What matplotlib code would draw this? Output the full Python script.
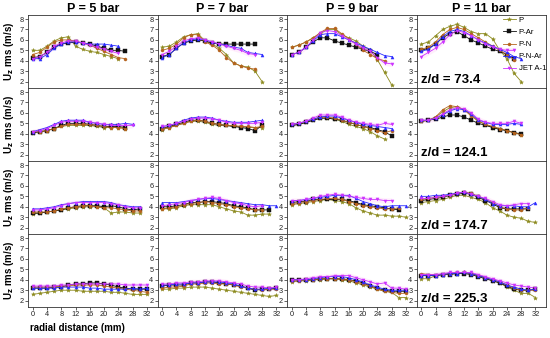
import numpy as np
import matplotlib
matplotlib.use("Agg")
import matplotlib.pyplot as plt

plt.rcParams['font.family'] = ['Liberation Sans', 'DejaVu Sans']

pressures = [5, 7, 9, 11]
zd_values = [73.4, 124.1, 174.7, 225.3]
fuels = ['P', 'P-Ar', 'P-N', 'P-N-Ar', 'JET A-1']
colors = ['#8c8a1e', '#111111', '#b5631e', '#2a2aff', '#cc33ff']
markers = ['*', 's', 'o', '^', 'v']
x_ticks = [0, 4, 8, 12, 16, 20, 24, 28, 32]
y_ticks = [2, 3, 4, 5, 6, 7, 8]
# measurement points every 2 mm starting at 0

# z/d = 73.4
p5_z73 = {
    'P':       [5.0, 5.0, 5.4, 5.9, 6.2, 6.3, 5.4, 5.1, 4.9, 4.8, 4.6, 4.4, 4.2],
    'P-Ar':    [4.3, 4.4, 4.8, 5.3, 5.6, 5.7, 5.8, 5.7, 5.6, 5.4, 5.2, 5.0, 5.0, 4.9],
    'P-N':     [4.6, 4.8, 5.3, 5.8, 6.0, 6.0, 5.9, 5.7, 5.5, 5.2, 4.9, 4.6, 4.3, 4.2],
    'P-N-Ar':  [4.2, 4.2, 4.6, 5.2, 5.6, 5.8, 5.8, 5.7, 5.6, 5.6, 5.6, 5.5, 5.4],
    'JET A-1': [4.2, 4.4, 4.8, 5.4, 5.7, 5.9, 5.9, 5.7, 5.5, 5.3, 5.1, 4.9, 4.7],
}
p7_z73 = {
    'P':       [5.3, 5.4, 5.8, 6.3, 6.5, 6.6, 5.9, 5.6, 5.2, 4.6, 3.8, 3.5, 3.4, 3.0, 2.0],
    'P-Ar':    [4.4, 4.6, 5.2, 5.7, 5.9, 6.0, 5.9, 5.7, 5.6, 5.6, 5.6, 5.6, 5.6, 5.6],
    'P-N':     [5.0, 5.2, 5.6, 6.2, 6.5, 6.5, 5.8, 5.5, 5.0, 4.3, 3.8, 3.5, 3.3, 3.2],
    'P-N-Ar':  [4.3, 4.6, 5.2, 5.7, 6.0, 6.1, 6.0, 5.8, 5.6, 5.5, 5.3, 5.2, 4.8, 4.7, 4.6],
    'JET A-1': [4.6, 4.9, 5.4, 5.9, 6.1, 6.2, 6.0, 5.8, 5.6, 5.4, 5.2, 5.0, 4.7, 4.6],
}
p9_z73 = {
    'P':       [5.3, 5.5, 5.8, 6.2, 6.6, 7.0, 7.0, 6.5, 6.2, 5.9, 5.4, 5.0, 4.1, 2.9, 1.7],
    'P-Ar':    [4.6, 4.8, 5.3, 5.8, 6.2, 6.2, 5.9, 5.7, 5.5, 5.3, 5.1, 4.9, 4.6],
    'P-N':     [5.3, 5.5, 5.8, 6.2, 6.7, 7.1, 7.1, 6.6, 6.1, 5.6, 5.0, 4.6, 4.2, 4.0],
    'P-N-Ar':  [4.6, 4.8, 5.3, 5.9, 6.5, 6.6, 6.6, 6.3, 6.0, 5.7, 5.4, 5.1, 4.8, 4.5, 4.4],
    'JET A-1': [4.6, 4.8, 5.3, 6.0, 6.7, 6.9, 6.8, 6.4, 6.0, 5.6, 5.2, 4.9, 4.3, 3.8, 3.7],
}
p11_z73 = {
    'P':       [5.6, 5.8, 6.4, 7.0, 7.3, 7.5, 7.2, 6.8, 6.6, 6.6, 6.1, 5.0, 4.2, 2.8, 2.0],
    'P-Ar':    [5.0, 5.2, 5.6, 6.2, 6.6, 6.8, 6.4, 6.0, 5.7, 5.4, 5.1, 4.9, 4.6, 4.2],
    'P-N':     [5.1, 5.3, 5.8, 6.5, 7.0, 7.2, 7.0, 6.6, 6.2, 5.8, 5.4, 5.0, 4.6, 4.1],
    'P-N-Ar':  [4.9, 5.1, 5.6, 6.3, 6.8, 7.0, 6.8, 6.4, 6.0, 5.7, 5.4, 5.1, 4.8, 4.4, 4.2],
    'JET A-1': [4.4, 4.8, 5.2, 5.8, 6.5, 6.9, 6.7, 6.4, 6.0, 5.6, 5.3, 5.1, 5.0, 5.0],
}

# z/d = 124.1
p5_z124 = {
    'P':       [4.1, 4.2, 4.3, 4.5, 4.7, 4.8, 4.8, 4.8, 4.8, 4.7, 4.6, 4.6, 4.6, 4.5],
    'P-Ar':    [4.1, 4.2, 4.3, 4.5, 4.8, 5.0, 5.0, 5.0, 4.9, 4.8, 4.7, 4.7, 4.7, 4.6],
    'P-N':     [4.2, 4.2, 4.3, 4.5, 4.7, 4.9, 4.9, 4.9, 4.9, 4.8, 4.7, 4.6, 4.6, 4.5],
    'P-N-Ar':  [4.2, 4.4, 4.6, 4.9, 5.2, 5.3, 5.3, 5.3, 5.1, 5.0, 4.9, 4.9, 4.9, 5.0, 4.9],
    'JET A-1': [4.2, 4.3, 4.5, 4.8, 5.1, 5.2, 5.2, 5.2, 5.1, 5.0, 4.9, 4.8, 4.8, 4.8, 4.8],
}
p7_z124 = {
    'P':       [4.4, 4.6, 4.8, 5.0, 5.2, 5.2, 5.1, 4.9, 4.8, 4.8, 4.7, 4.7, 4.6, 4.6, 4.6],
    'P-Ar':    [4.5, 4.7, 4.9, 5.1, 5.3, 5.3, 5.2, 5.0, 4.9, 4.8, 4.7, 4.6, 4.5, 4.3, 4.8],
    'P-N':     [4.5, 4.6, 4.8, 5.0, 5.2, 5.3, 5.2, 5.0, 4.9, 4.8, 4.8, 4.7, 4.7, 4.6, 4.7],
    'P-N-Ar':  [4.7, 4.8, 5.0, 5.3, 5.5, 5.6, 5.6, 5.5, 5.3, 5.2, 5.1, 5.1, 5.1, 5.2, 5.3],
    'JET A-1': [4.7, 4.8, 5.0, 5.2, 5.4, 5.5, 5.5, 5.4, 5.3, 5.1, 5.0, 5.0, 5.0, 5.0, 5.1],
}
p9_z124 = {
    'P':       [4.8, 4.9, 5.1, 5.3, 5.5, 5.5, 5.4, 5.2, 4.9, 4.7, 4.5, 4.2, 3.8, 3.5],
    'P-Ar':    [4.8, 4.9, 5.1, 5.3, 5.5, 5.5, 5.4, 5.3, 5.1, 4.9, 4.7, 4.6, 4.4, 4.2, 3.8],
    'P-N':     [4.9, 5.0, 5.2, 5.4, 5.6, 5.6, 5.5, 5.3, 5.1, 4.9, 4.7, 4.5, 4.3, 4.1, 4.3],
    'P-N-Ar':  [4.9, 5.0, 5.2, 5.4, 5.6, 5.7, 5.7, 5.5, 5.3, 5.1, 4.9, 4.8, 4.7, 4.6, 4.5],
    'JET A-1': [4.9, 5.0, 5.2, 5.5, 5.8, 5.8, 5.8, 5.6, 5.3, 5.1, 5.0, 4.9, 4.8, 5.0, 4.9],
}
p11_z124 = {
    'P':       [5.2, 5.3, 5.6, 6.1, 6.5, 6.6, 6.3, 5.8, 5.2, 4.9, 4.6, 4.5, 4.3, 4.1, 3.9],
    'P-Ar':    [5.2, 5.3, 5.4, 5.6, 5.8, 5.8, 5.6, 5.3, 5.0, 4.8, 4.6, 4.4, 4.3, 4.1, 4.0],
    'P-N':     [5.2, 5.3, 5.6, 6.3, 6.7, 6.6, 6.3, 5.7, 5.2, 4.9, 4.7, 4.5, 4.3, 4.1, 3.9],
    'P-N-Ar':  [5.3, 5.3, 5.5, 5.8, 6.2, 6.4, 6.3, 5.9, 5.3, 5.1, 4.9, 4.9, 4.9, 5.0, 4.9],
    'JET A-1': [5.3, 5.3, 5.5, 5.9, 6.3, 6.5, 6.4, 6.0, 5.4, 5.1, 5.0, 5.0, 5.0, 5.2, 5.0],
}

# z/d = 174.7
p5_z174 = {
    'P':       [3.3, 3.4, 3.5, 3.6, 3.7, 3.8, 3.9, 4.0, 4.0, 4.0, 3.9, 3.4, 3.5, 3.5, 3.4, 3.4],
    'P-Ar':    [3.4, 3.4, 3.5, 3.6, 3.7, 3.9, 4.0, 4.1, 4.1, 4.1, 4.0, 4.1, 4.0, 3.8, 3.7, 3.8],
    'P-N':     [3.5, 3.5, 3.5, 3.6, 3.8, 3.9, 4.0, 4.1, 4.1, 4.0, 3.9, 3.9, 3.8, 3.7, 3.6, 3.6],
    'P-N-Ar':  [3.8, 3.8, 3.9, 4.0, 4.2, 4.3, 4.4, 4.5, 4.5, 4.5, 4.5, 4.4, 4.2, 4.1, 4.0, 4.0],
    'JET A-1': [3.7, 3.7, 3.8, 3.9, 4.1, 4.3, 4.4, 4.4, 4.4, 4.4, 4.4, 4.3, 4.2, 4.0, 3.9, 3.9],
}
p7_z174 = {
    'P':       [3.8, 3.8, 3.9, 4.1, 4.2, 4.2, 4.2, 4.2, 4.0, 3.8, 3.6, 3.5, 3.2, 3.2, 3.3, 3.3],
    'P-Ar':    [4.0, 4.0, 4.1, 4.2, 4.4, 4.4, 4.5, 4.5, 4.4, 4.3, 4.1, 4.0, 3.9, 3.7, 3.7, 3.7],
    'P-N':     [3.8, 3.9, 4.0, 4.2, 4.3, 4.4, 4.5, 4.4, 4.3, 4.2, 4.0, 3.9, 3.8, 3.7, 3.7],
    'P-N-Ar':  [4.4, 4.4, 4.4, 4.5, 4.6, 4.7, 4.8, 4.8, 4.7, 4.6, 4.5, 4.4, 4.3, 4.2, 4.2, 4.1, 4.1],
    'JET A-1': [4.1, 4.2, 4.3, 4.4, 4.6, 4.7, 4.8, 4.9, 4.8, 4.6, 4.4, 4.3, 4.1, 4.0, 4.1],
}
p9_z174 = {
    'P':       [4.2, 4.3, 4.4, 4.5, 4.6, 4.7, 4.6, 4.5, 4.3, 3.9, 3.6, 3.4, 3.2, 3.2, 3.1, 3.1, 3.0],
    'P-Ar':    [4.4, 4.5, 4.5, 4.7, 4.7, 4.7, 4.7, 4.7, 4.6, 4.4, 4.2, 4.1, 4.0, 3.9, 3.8, 3.7],
    'P-N':     [4.3, 4.4, 4.5, 4.6, 4.7, 4.8, 4.8, 4.7, 4.5, 4.3, 4.1, 4.0, 3.9, 3.8, 3.8, 3.9],
    'P-N-Ar':  [4.6, 4.6, 4.7, 4.8, 4.9, 5.0, 5.1, 5.1, 5.1, 4.8, 4.5, 4.3, 4.1, 4.0, 4.1, 4.1, 4.1],
    'JET A-1': [4.6, 4.6, 4.7, 4.8, 5.0, 5.1, 5.2, 5.1, 5.0, 4.9, 4.8, 4.7, 4.7, 4.6, 4.6],
}
p11_z174 = {
    'P':       [4.4, 4.5, 4.6, 4.7, 4.9, 5.1, 5.1, 4.9, 4.7, 4.4, 3.9, 3.6, 3.2, 3.0, 2.9, 2.6, 2.5],
    'P-Ar':    [4.6, 4.7, 4.8, 4.9, 5.1, 5.2, 5.3, 5.2, 4.9, 4.6, 4.3, 3.9, 3.8, 3.8, 3.8, 3.8],
    'P-N':     [4.7, 4.8, 4.9, 5.0, 5.1, 5.3, 5.4, 5.3, 5.0, 4.7, 4.4, 4.0, 3.8, 3.7, 3.7, 3.9],
    'P-N-Ar':  [5.0, 5.0, 5.1, 5.1, 5.2, 5.3, 5.4, 5.2, 5.0, 4.7, 4.3, 4.1, 4.1, 4.1, 4.0, 4.0, 4.4],
    'JET A-1': [4.8, 4.8, 4.9, 5.0, 5.1, 5.3, 5.4, 5.2, 5.0, 4.8, 4.5, 4.2, 4.1, 4.2, 4.3, 4.3],
}

# z/d = 225.3
p5_z225 = {
    'P':       [2.6, 2.7, 2.8, 2.9, 3.0, 3.0, 3.0, 2.9, 2.9, 2.9, 2.9, 2.8, 2.8, 2.7, 2.6, 2.6, 2.6],
    'P-Ar':    [3.2, 3.2, 3.2, 3.3, 3.3, 3.5, 3.6, 3.6, 3.7, 3.7, 3.6, 3.5, 3.3, 3.2, 3.1, 3.1, 3.1],
    'P-N':     [3.3, 3.3, 3.3, 3.3, 3.4, 3.4, 3.5, 3.5, 3.5, 3.5, 3.4, 3.3, 3.2, 3.1, 3.0, 2.9, 2.8],
    'P-N-Ar':  [3.2, 3.2, 3.2, 3.2, 3.3, 3.3, 3.3, 3.3, 3.2, 3.2, 3.1, 3.1, 3.1, 3.1, 3.2, 3.1, 3.2],
    'JET A-1': [3.4, 3.4, 3.4, 3.4, 3.5, 3.5, 3.6, 3.6, 3.6, 3.6, 3.6, 3.6, 3.6, 3.5, 3.5, 3.5, 3.5],
}
p7_z225 = {
    'P':       [3.1, 3.1, 3.2, 3.2, 3.3, 3.3, 3.3, 3.2, 3.1, 3.0, 2.9, 2.8, 2.7, 2.6, 2.5, 2.4, 2.5],
    'P-Ar':    [3.4, 3.5, 3.5, 3.5, 3.7, 3.7, 3.8, 3.8, 3.7, 3.6, 3.5, 3.4, 3.2, 3.0, 3.1, 3.1, 3.2],
    'P-N':     [3.2, 3.3, 3.3, 3.4, 3.6, 3.6, 3.7, 3.7, 3.6, 3.6, 3.5, 3.3, 3.2, 3.1, 3.0, 3.1, 3.1],
    'P-N-Ar':  [3.5, 3.5, 3.6, 3.6, 3.7, 3.7, 3.8, 3.8, 3.8, 3.7, 3.6, 3.4, 3.2, 3.1, 3.1, 3.2, 3.2],
    'JET A-1': [3.6, 3.6, 3.7, 3.7, 3.8, 3.8, 3.9, 3.9, 3.9, 3.8, 3.7, 3.6, 3.4, 3.3, 3.3, 3.2, 3.3],
}
p9_z225 = {
    'P':       [3.8, 3.9, 3.9, 4.0, 4.0, 4.1, 4.1, 4.0, 3.9, 3.7, 3.5, 3.3, 3.1, 2.9, 2.8, 2.3, 2.3],
    'P-Ar':    [4.0, 4.0, 4.0, 4.0, 4.1, 4.1, 4.1, 4.1, 4.0, 3.9, 3.7, 3.4, 3.2, 3.0, 2.9, 2.9, 2.9],
    'P-N':     [3.9, 3.9, 4.0, 4.0, 4.1, 4.1, 4.1, 4.1, 4.0, 3.8, 3.6, 3.4, 3.1, 2.9, 2.8, 2.7, 2.7],
    'P-N-Ar':  [4.0, 4.0, 4.0, 4.1, 4.2, 4.3, 4.3, 4.3, 4.2, 4.0, 3.8, 3.5, 3.3, 3.1, 3.0, 3.0, 3.0],
    'JET A-1': [4.0, 4.0, 4.1, 4.2, 4.3, 4.3, 4.4, 4.4, 4.4, 4.2, 4.0, 3.8, 3.6, 3.7, 3.2, 3.2, 3.1],
}
p11_z225 = {
    'P':       [4.1, 4.1, 4.4, 4.5, 4.6, 4.6, 4.7, 4.6, 4.4, 4.2, 3.9, 3.7, 3.3, 3.0, 2.7, 2.7, 2.3],
    'P-Ar':    [4.4, 4.4, 4.4, 4.5, 4.5, 4.6, 4.6, 4.5, 4.3, 4.1, 3.9, 3.7, 3.4, 3.1, 3.0, 3.0, 3.1],
    'P-N':     [4.6, 4.5, 4.5, 4.5, 4.6, 4.7, 4.7, 4.6, 4.4, 4.2, 4.0, 3.8, 3.5, 3.2, 3.0, 3.0, 3.0],
    'P-N-Ar':  [4.4, 4.4, 4.4, 4.5, 4.6, 4.6, 4.7, 4.6, 4.4, 4.2, 4.0, 3.8, 3.5, 3.3, 3.1, 3.0, 3.1],
    'JET A-1': [4.5, 4.5, 4.5, 4.6, 4.7, 4.7, 4.7, 4.7, 4.5, 4.3, 4.1, 3.9, 3.7, 3.5, 3.4, 3.3, 3.2],
}

grid = [
    [p5_z73, p7_z73, p9_z73, p11_z73],
    [p5_z124, p7_z124, p9_z124, p11_z124],
    [p5_z174, p7_z174, p9_z174, p11_z174],
    [p5_z225, p7_z225, p9_z225, p11_z225],
]

fig, axes = plt.subplots(4, 4, figsize=(5.5, 3.38), dpi=100)
fig.subplots_adjust(left=0.051, right=0.993, top=0.956, bottom=0.092, wspace=0, hspace=0)

for r in range(4):
    for c in range(4):
        ax = axes[r, c]
        data = grid[r][c]
        # faint pink band around the jet fuel curve
        jet = np.array(data['JET A-1'])
        xj = np.arange(len(jet)) * 2
        ax.fill_between(xj, jet - 0.25, jet + 0.25, color='#ff9cf0', alpha=0.18, lw=0)
        for fuel, col, mk in zip(fuels, colors, markers):
            vals = data[fuel]
            x = np.arange(len(vals)) * 2
            ax.plot(x, vals, color=col, marker=mk, ms=2.2 if mk != '*' else 3, lw=0.6,
                    mew=0.3, label=fuel)
        ax.set_xlim(-1.3, 35)
        ax.set_ylim(1.4, 8.4)
        ax.set_xticks(x_ticks)
        ax.set_yticks(y_ticks)
        ax.tick_params(labelsize=5.3, length=2, width=0.5, pad=1, colors='#222222')
        for s in ax.spines.values():
            s.set_linewidth(0.6)
            s.set_color('#333333')
        if r == 0:
            ax.set_title('P = %d bar' % pressures[c], fontsize=9, fontweight='bold', pad=2)
        if c == 0:
            ax.set_ylabel(r'U$_\mathbf{z}$ rms (m/s)', fontsize=7, fontweight='bold', labelpad=3)
        if c == 3:
            ax.text(0.03, 0.07, 'z/d = %.1f' % zd_values[r], transform=ax.transAxes,
                    fontsize=9.5, fontweight='bold')

leg = axes[0, 3].legend(loc='upper right', fontsize=5.6, frameon=False, handlelength=1.6,
                        labelspacing=0.6, borderaxespad=0.1, handletextpad=0.4,
                        bbox_to_anchor=(1.03, 1.03))

fig.text(0.14, 0.022, 'radial distance (mm)', fontsize=7, fontweight='bold', ha='center')

fig.savefig('out.png', dpi=100)
